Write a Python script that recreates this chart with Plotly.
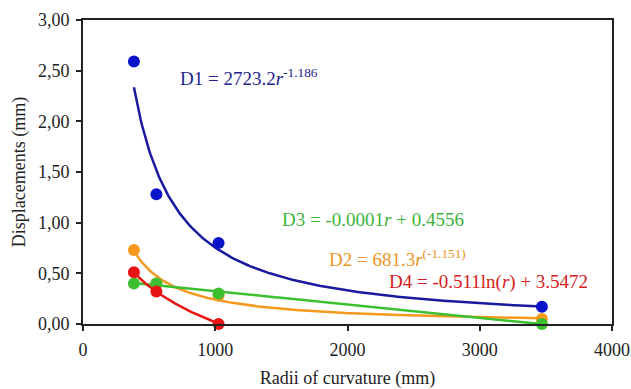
import numpy as np
import plotly.graph_objects as go

# Data
radii = [385, 555, 1025, 3470]
d1 = [2.59, 1.28, 0.80, 0.17]
d2 = [0.73, 0.40, 0.28, 0.05]
d3 = [0.40, 0.40, 0.30, 0.00]
radii_d4 = [385, 555, 1025]
d4 = [0.51, 0.32, 0.00]

x_ticks = [0, 1000, 2000, 3000, 4000]
y_ticks = [0, 0.5, 1.0, 1.5, 2.0, 2.5, 3.0]

# Trendline coefficients (as labelled on the chart)
D1_A, D1_B = 2723.2, -1.186
D2_A, D2_B = 681.3, -1.151
D3_M, D3_C = -0.0001316, 0.4556
D4_M, D4_C = -0.511, 3.5472

c_blue_pt, c_blue_ln = "#0a14c8", "#1a1aa0"
c_orange = "#f5981e"
c_green = "#3cc032"
c_red = "#e81414"

fig = go.Figure()

rr = np.linspace(radii[0], radii[-1], 300)
rr4 = np.linspace(radii_d4[0], radii_d4[-1], 100)

fits = [
    (rr, D1_A * rr ** D1_B, c_blue_ln),
    (rr, D2_A * rr ** D2_B, c_orange),
    (rr, D3_M * rr + D3_C, c_green),
    (rr4, D4_M * np.log(rr4) + D4_C, c_red),
]
pts = [
    (radii, d1, c_blue_pt),
    (radii, d2, c_orange),
    (radii, d3, c_green),
    (radii_d4, d4, c_red),
]
for x, y, c in fits:
    fig.add_trace(go.Scatter(x=x, y=y, mode="lines", line=dict(color=c, width=2.5),
                             showlegend=False, hoverinfo="skip"))
for x, y, c in pts:
    fig.add_trace(go.Scatter(x=x, y=y, mode="markers", marker=dict(color=c, size=12),
                             showlegend=False, cliponaxis=False))

font_family = "Liberation Serif, DejaVu Serif, serif"
ann = [
    (718, 2.44, "D1 = 2723.2<i>r</i><sup>-1.186</sup>", "#24248c"),
    (1490, 1.036, "D3 = -0.0001<i>r</i> + 0.4556", "#3cb43c"),
    (1845, 0.651, "D2 = 681.3<i>r</i><sup>(-1.151)</sup>", "#eb9628"),
    (2299, 0.414, "D4 = -0.511ln(<i>r</i>) + 3.5472", "#d42020"),
]
for x, y, t, c in ann:
    fig.add_annotation(x=x, y=y, text=t, showarrow=False, xanchor="left", yanchor="middle",
                       font=dict(family=font_family, size=19, color=c))

axis_common = dict(showline=True, linecolor="#222222", linewidth=2, mirror=True,
                   ticks="outside", ticklen=5, tickwidth=2, tickcolor="#222222",
                   showgrid=False, zeroline=False, ticklabelstandoff=3, automargin=False,
                   tickfont=dict(family=font_family, size=18, color="#222222"))
title_font = dict(family=font_family, size=18, color="#222222")
fig.update_xaxes(range=[0, 4000], tickvals=x_ticks, tickformat="d",
                 title=dict(text="Radii of curvature (mm)", font=title_font, standoff=13),
                 **axis_common)
fig.update_yaxes(range=[0, 3.0], tickvals=y_ticks, tickformat=".2f",
                 title=dict(text="Displacements (mm)", font=title_font, standoff=8),
                 **axis_common)
fig.update_layout(width=631, height=389, margin=dict(l=83, r=19, t=20, b=65),
                  plot_bgcolor="white", paper_bgcolor="white", separators=", ")
fig.write_html("out.html")
